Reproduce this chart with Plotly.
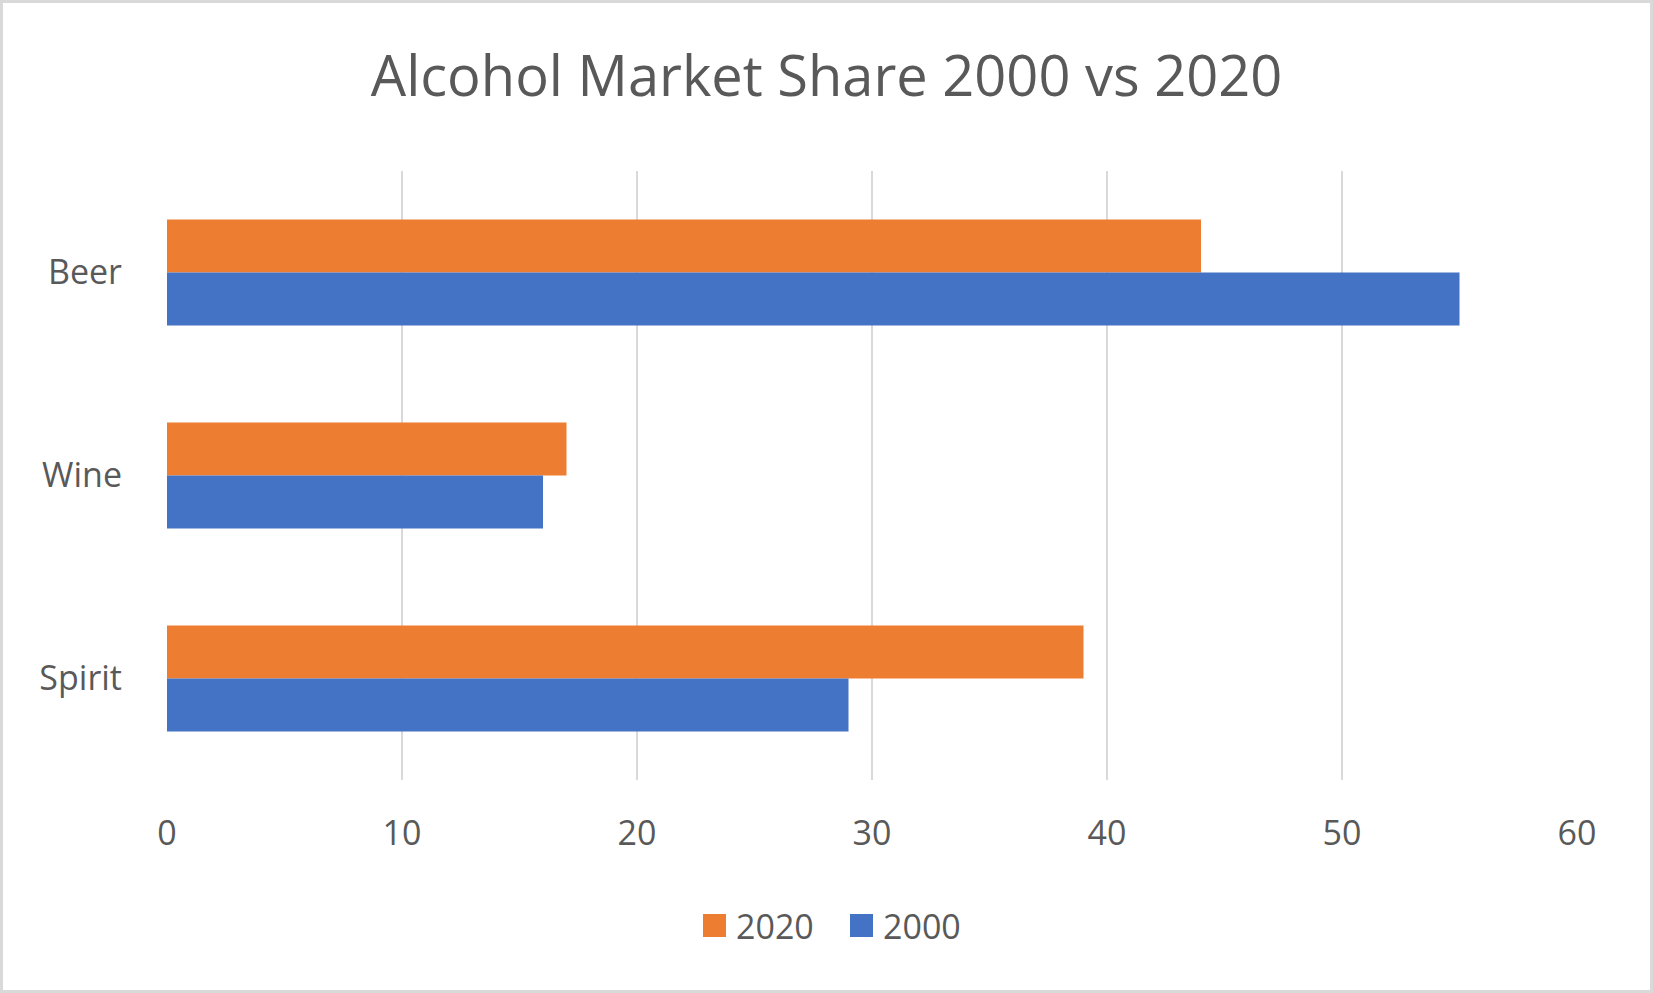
import plotly.graph_objects as go

categories = ["Beer", "Wine", "Spirit"]
series_names = ["2020", "2000"]
values_2020 = [44, 17, 39]
values_2000 = [55, 16, 29]
x_ticks = [0, 10, 20, 30, 40, 50, 60]

colors = {"2020": "#ED7D31", "2000": "#4472C4"}
W, H = 1653, 993
L, R, T, B = 167, 76, 171, 213
PW, PH = W - L - R, H - T - B
FONT = "Open Sans"
TXT = "#595959"

def px(x):
    return (x - L) / PW

def py(y):
    return (H - B - y) / PH

fig = go.Figure()
for name, vals in zip(series_names, [values_2020, values_2000]):
    fig.add_trace(go.Bar(
        y=categories, x=vals, name=name, orientation="h",
        marker=dict(color=colors[name], line=dict(width=0)),
        showlegend=False,
    ))

shapes = [
    dict(type="rect", xref="paper", yref="paper",
         x0=px(1.5), x1=px(W - 1.5), y0=py(1.5), y1=py(H - 1.5),
         line=dict(color="#D9D9D9", width=3), layer="below"),
]
annotations = []
legend_items = [("2020", 703, 737), ("2000", 850, 884)]
for name, sx, tx in legend_items:
    shapes.append(dict(type="rect", xref="paper", yref="paper",
                       x0=px(sx), x1=px(sx + 23), y0=py(914), y1=py(937),
                       fillcolor=colors[name], line=dict(width=0)))
    annotations.append(dict(text=name, xref="paper", yref="paper",
                            x=px(tx - 3), y=py(925.5), xanchor="left", yanchor="middle",
                            showarrow=False, font=dict(family=FONT, size=34, color=TXT)))

fig.update_layout(
    width=W, height=H,
    margin=dict(l=L, r=R, t=T, b=B),
    paper_bgcolor="white", plot_bgcolor="white",
    barmode="group", bargap=0.478, bargroupgap=0,
    title=dict(text="Alcohol Market Share 2000 vs 2020", x=0.5, xanchor="center",
               y=1 - 76 / H, yanchor="middle", yref="container",
               font=dict(family=FONT, size=56, color=TXT)),
    font=dict(family=FONT, size=34, color=TXT),
    xaxis=dict(range=[0, 60], tickvals=x_ticks, showgrid=True, gridcolor="#D9D9D9",
               gridwidth=1.5, zeroline=False, showline=False, ticks="",
               ticklabelstandoff=30, tickfont=dict(family=FONT, size=34, color=TXT)),
    yaxis=dict(categoryorder="array", categoryarray=categories, autorange="reversed",
               showgrid=False, zeroline=False, showline=False, ticks="",
               ticklabelstandoff=44, tickfont=dict(family=FONT, size=34, color=TXT)),
    shapes=shapes, annotations=annotations,
)

fig.write_html("out.html", config={"displayModeBar": False},
               post_script="document.body.style.margin='0px';document.body.style.overflow='hidden';")
